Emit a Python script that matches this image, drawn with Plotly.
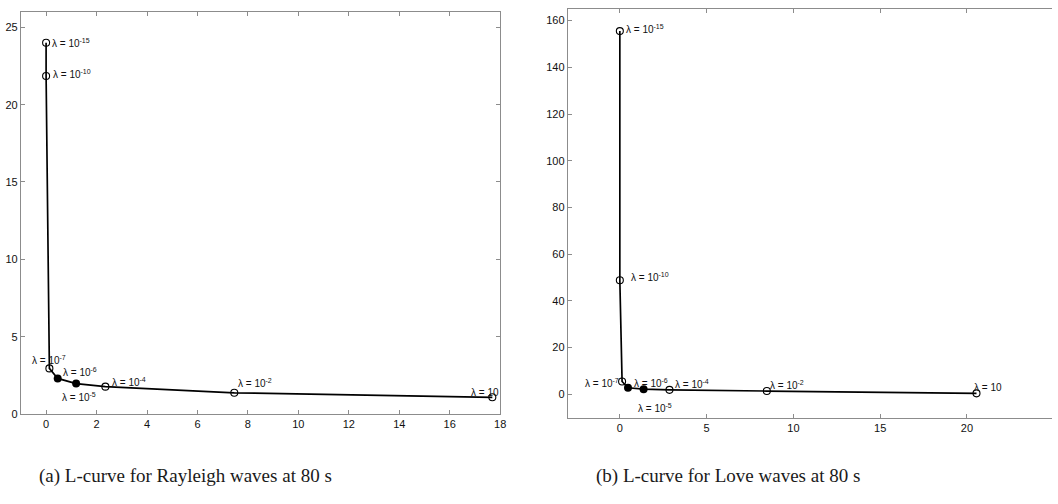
import plotly.graph_objects as go

# Regularisation parameters labelled along each L-curve
lambda_labels = ["10<sup>-15</sup>", "10<sup>-10</sup>", "10<sup>-7</sup>", "10<sup>-6</sup>",
                 "10<sup>-5</sup>", "10<sup>-4</sup>", "10<sup>-2</sup>", "10"]
filled = [False, False, False, True, True, False, False, False]

# Rayleigh waves at 80 s: (residual norm, model norm)
rayleigh_x = [0.0, 0.0, 0.13, 0.46, 1.19, 2.35, 7.46, 17.69]
rayleigh_y = [24.0, 21.85, 2.95, 2.3, 1.97, 1.77, 1.37, 1.08]

# Love waves at 80 s
love_x = [0.0, 0.0, 0.13, 0.47, 1.37, 2.86, 8.47, 20.55]
love_y = [155.5, 48.8, 5.5, 2.8, 2.2, 1.9, 1.4, 0.4]

rayleigh_xticks = [0, 2, 4, 6, 8, 10, 12, 14, 16, 18]
rayleigh_yticks = [0, 5, 10, 15, 20, 25]
love_xticks = [0, 5, 10, 15, 20, 25]
love_yticks = [0, 20, 40, 60, 80, 100, 120, 140, 160]

captions = ["(a) L-curve for Rayleigh waves at 80 s", "(b) L-curve for Love waves at 80 s"]

W, H = 1058, 504
AX_COLOR = "#8c8c8c"
TICK_FONT = dict(family="Liberation Sans, Arial, sans-serif", size=11, color="#111111")
LABEL_FONT = dict(family="Liberation Sans, Arial, sans-serif", size=10, color="#111111")
CAPTION_FONT = dict(family="Liberation Serif, serif", size=19, color="#1a1a1a")

# label placement (pixel offsets from each point): (xanchor, xshift, yshift)
rayleigh_label_pos = [("left", 4, 0), ("left", 5, 2), ("center", 0, 8), ("left", 3, 6),
                      ("left", -16, -13), ("left", 5, 5), ("left", 2, 10), ("right", 9, 5)]
love_label_pos = [("left", 4, 2), ("left", 9, 3), ("right", -1, -2), ("left", 4, 5),
                  ("left", -8, -19), ("left", 4, 6), ("left", 1, 6), ("left", -5, 6)]

fig = go.Figure()


def add_curve(xs, ys, xa, ya):
    fig.add_trace(go.Scatter(x=xs, y=ys, mode="lines", xaxis=xa, yaxis=ya,
                             line=dict(color="black", width=1.7), hoverinfo="skip",
                             showlegend=False))
    ox = [x for x, f in zip(xs, filled) if not f]
    oy = [y for y, f in zip(ys, filled) if not f]
    fx = [x for x, f in zip(xs, filled) if f]
    fy = [y for y, f in zip(ys, filled) if f]
    fig.add_trace(go.Scatter(x=ox, y=oy, mode="markers", xaxis=xa, yaxis=ya,
                             marker=dict(symbol="circle-open", size=7, color="black",
                                         line=dict(width=1.1)),
                             showlegend=False))
    fig.add_trace(go.Scatter(x=fx, y=fy, mode="markers", xaxis=xa, yaxis=ya,
                             marker=dict(symbol="circle", size=8, color="black"),
                             showlegend=False))


add_curve(rayleigh_x, rayleigh_y, "x", "y")
add_curve(love_x, love_y, "x2", "y2")

annotations = []
for xs, ys, pos, xr, yr in [(rayleigh_x, rayleigh_y, rayleigh_label_pos, "x", "y"),
                            (love_x, love_y, love_label_pos, "x2", "y2")]:
    for x, y, lab, (anc, dx, dy) in zip(xs, ys, lambda_labels, pos):
        annotations.append(dict(x=x, y=y, xref=xr, yref=yr, text="\u03bb = " + lab,
                                showarrow=False, xanchor=anc, yanchor="middle",
                                xshift=dx, yshift=dy, font=LABEL_FONT))

annotations.append(dict(x=37 / W, y=1 - 482 / H, xref="paper", yref="paper",
                        text=captions[0], showarrow=False, xanchor="left", yanchor="middle",
                        font=CAPTION_FONT))
annotations.append(dict(x=597 / W, y=1 - 482 / H, xref="paper", yref="paper",
                        text=captions[1], showarrow=False, xanchor="left", yanchor="middle",
                        font=CAPTION_FONT))

axis_common = dict(showgrid=False, zeroline=False, showline=True, linecolor=AX_COLOR,
                   linewidth=1, ticks="inside", ticklen=4, tickcolor=AX_COLOR,
                   tickfont=TICK_FONT)

fig.update_layout(
    width=W, height=H, margin=dict(l=0, r=0, t=0, b=0),
    paper_bgcolor="white", plot_bgcolor="white",
    xaxis=dict(domain=[21 / W, 503 / W], range=[-1, 18], tickvals=rayleigh_xticks,
               mirror="allticks", anchor="y", **axis_common),
    yaxis=dict(domain=[1 - 419 / H, 1 - 12 / H], range=[0, 26], tickvals=rayleigh_yticks,
               mirror="allticks", anchor="x", **axis_common),
    xaxis2=dict(domain=[571 / W, 1.0], range=[-3, 24.9], tickvals=love_xticks,
                mirror="allticks", anchor="y2", **axis_common),
    yaxis2=dict(domain=[1 - 422.7 / H, 1 - 9 / H], range=[-10, 165], tickvals=love_yticks,
                mirror=False, anchor="x2", **axis_common),
    yaxis3=dict(domain=[1 - 422.7 / H, 1 - 9 / H], range=[-10, 165], tickvals=love_yticks,
                overlaying="y2", side="right", anchor="x2", showgrid=False, zeroline=False,
                showline=False, ticks="inside", ticklen=4, tickcolor=AX_COLOR,
                showticklabels=False),
    annotations=annotations,
)

fig.write_html("out.html")
